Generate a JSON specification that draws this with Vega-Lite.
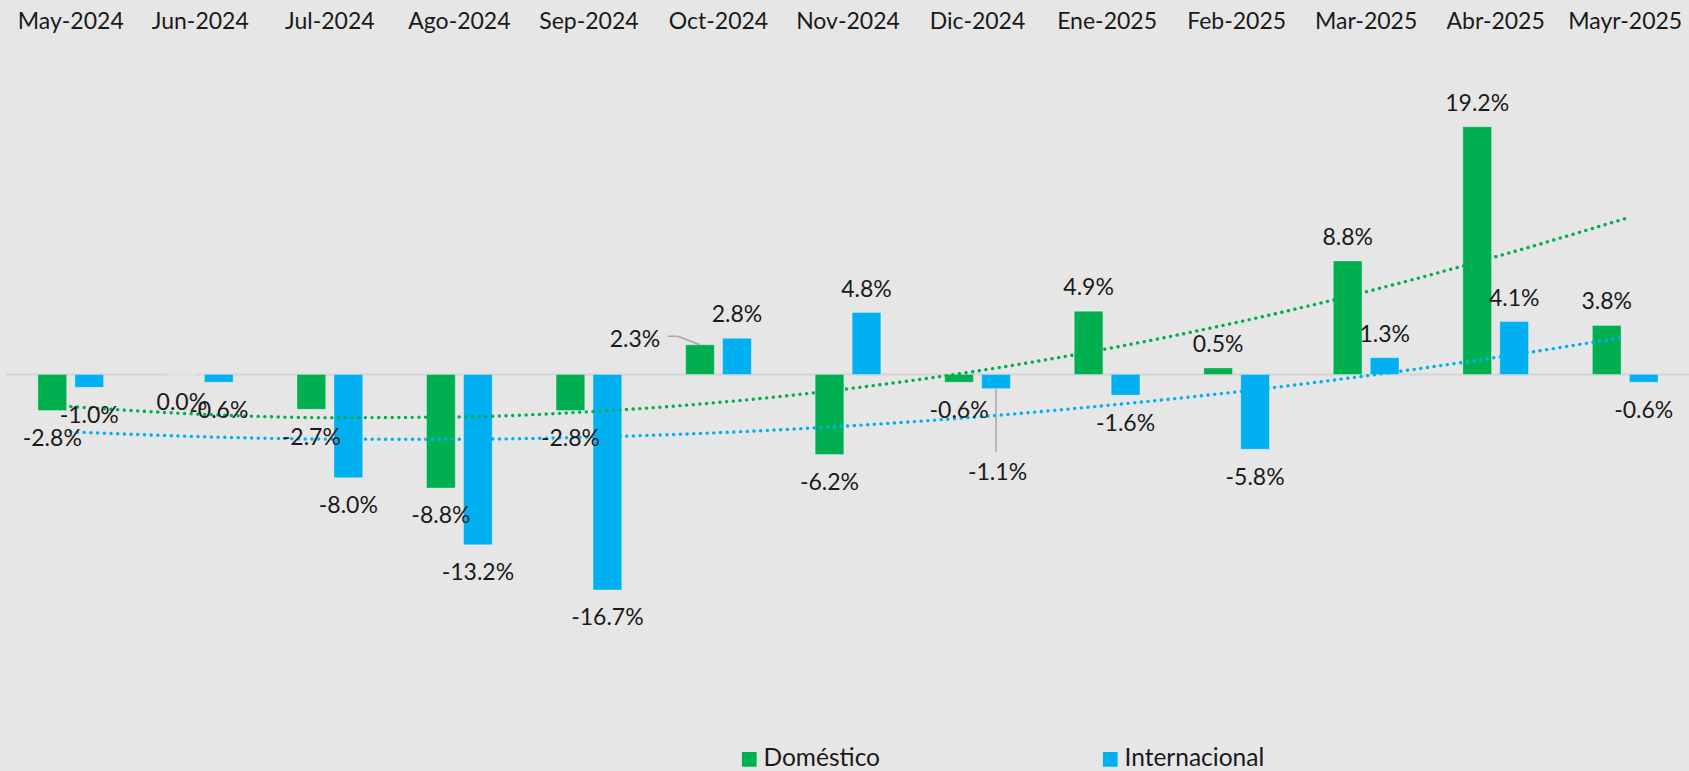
{
  "$schema": "https://vega.github.io/schema/vega-lite/v6.json",
  "width": 1684,
  "height": 658,
  "autosize": {"type": "none"},
  "padding": {"left": 6, "top": 39, "right": 0, "bottom": 74},
  "background": "#e7e6e6",
  "config": {
    "view": {"stroke": null},
    "font": "Lato",
    "locale": {
      "number": {"decimal": ".", "thousands": ",", "grouping": [3], "currency": ["$", ""], "minus": "-"}
    },
    "legend": {
      "orient": "none",
      "direction": "horizontal",
      "title": null,
      "symbolType": "square",
      "symbolSize": 216,
      "symbolStrokeWidth": 0,
      "symbolOpacity": 1,
      "labelFont": "Lato",
      "labelFontSize": 24.5,
      "labelColor": "#1a1a1a",
      "labelOffset": 2,
      "labelLimit": 400,
      "columnPadding": 217,
      "padding": 0
    }
  },
  "datasets": {
    "bars": [
      {"month": "May-2024", "series": "Doméstico", "value": -0.028},
      {"month": "May-2024", "series": "Internacional", "value": -0.010},
      {"month": "Jun-2024", "series": "Doméstico", "value": 0.000},
      {"month": "Jun-2024", "series": "Internacional", "value": -0.006},
      {"month": "Jul-2024", "series": "Doméstico", "value": -0.027},
      {"month": "Jul-2024", "series": "Internacional", "value": -0.080},
      {"month": "Ago-2024", "series": "Doméstico", "value": -0.088},
      {"month": "Ago-2024", "series": "Internacional", "value": -0.132},
      {"month": "Sep-2024", "series": "Doméstico", "value": -0.028},
      {"month": "Sep-2024", "series": "Internacional", "value": -0.167},
      {"month": "Oct-2024", "series": "Doméstico", "value": 0.023},
      {"month": "Oct-2024", "series": "Internacional", "value": 0.028},
      {"month": "Nov-2024", "series": "Doméstico", "value": -0.062},
      {"month": "Nov-2024", "series": "Internacional", "value": 0.048},
      {"month": "Dic-2024", "series": "Doméstico", "value": -0.006},
      {"month": "Dic-2024", "series": "Internacional", "value": -0.011},
      {"month": "Ene-2025", "series": "Doméstico", "value": 0.049},
      {"month": "Ene-2025", "series": "Internacional", "value": -0.016},
      {"month": "Feb-2025", "series": "Doméstico", "value": 0.005},
      {"month": "Feb-2025", "series": "Internacional", "value": -0.058},
      {"month": "Mar-2025", "series": "Doméstico", "value": 0.088},
      {"month": "Mar-2025", "series": "Internacional", "value": 0.013},
      {"month": "Abr-2025", "series": "Doméstico", "value": 0.192},
      {"month": "Abr-2025", "series": "Internacional", "value": 0.041},
      {"month": "Mayr-2025", "series": "Doméstico", "value": 0.038},
      {"month": "Mayr-2025", "series": "Internacional", "value": -0.006}
    ],
    "trend": [
      {"month": "May-2024", "series": "Doméstico", "value": -0.0249},
      {"month": "Jun-2024", "series": "Doméstico", "value": -0.0308},
      {"month": "Jul-2024", "series": "Doméstico", "value": -0.0335},
      {"month": "Ago-2024", "series": "Doméstico", "value": -0.0329},
      {"month": "Sep-2024", "series": "Doméstico", "value": -0.0289},
      {"month": "Oct-2024", "series": "Doméstico", "value": -0.0217},
      {"month": "Nov-2024", "series": "Doméstico", "value": -0.0111},
      {"month": "Dic-2024", "series": "Doméstico", "value": 0.0027},
      {"month": "Ene-2025", "series": "Doméstico", "value": 0.0199},
      {"month": "Feb-2025", "series": "Doméstico", "value": 0.0403},
      {"month": "Mar-2025", "series": "Doméstico", "value": 0.0641},
      {"month": "Abr-2025", "series": "Doméstico", "value": 0.0912},
      {"month": "Mayr-2025", "series": "Doméstico", "value": 0.1208},
      {"month": "May-2024", "series": "Internacional", "value": -0.0445},
      {"month": "Jun-2024", "series": "Internacional", "value": -0.0482},
      {"month": "Jul-2024", "series": "Internacional", "value": -0.0501},
      {"month": "Ago-2024", "series": "Internacional", "value": -0.0502},
      {"month": "Sep-2024", "series": "Internacional", "value": -0.0486},
      {"month": "Oct-2024", "series": "Internacional", "value": -0.0451},
      {"month": "Nov-2024", "series": "Internacional", "value": -0.0399},
      {"month": "Dic-2024", "series": "Internacional", "value": -0.0329},
      {"month": "Ene-2025", "series": "Internacional", "value": -0.0240},
      {"month": "Feb-2025", "series": "Internacional", "value": -0.0135},
      {"month": "Mar-2025", "series": "Internacional", "value": -0.0011},
      {"month": "Abr-2025", "series": "Internacional", "value": 0.0131},
      {"month": "Mayr-2025", "series": "Internacional", "value": 0.0290}
    ]
  },
  "encoding": {
    "x": {
      "field": "month",
      "type": "nominal",
      "sort": null,
      "scale": {"paddingInner": 0.493, "paddingOuter": 0.2465},
      "axis": {
        "orient": "top",
        "title": null,
        "domain": false,
        "ticks": false,
        "tickSize": 0,
        "grid": false,
        "labelAngle": 0,
        "labelFont": "Lato",
        "labelFontSize": 23,
        "labelColor": "#1a1a1a",
        "labelBaseline": "middle",
        "labelPadding": 18,
        "labelOverlap": false,
        "labelBound": false,
        "labelFlush": false
      }
    },
    "y": {
      "field": "value",
      "type": "quantitative",
      "scale": {"domain": [-0.25, 0.26], "nice": false, "zero": false},
      "axis": null
    }
  },
  "layer": [
    {
      "data": {"values": [{"z": 0}]},
      "mark": {"type": "rule", "color": "#d4d4d4", "strokeWidth": 2},
      "encoding": {"x": null, "y": {"field": "z", "type": "quantitative"}}
    },
    {
      "data": {"name": "bars"},
      "mark": {"type": "bar", "stroke": "#ffffff", "strokeOpacity": 0.3, "strokeWidth": 1},
      "encoding": {
        "xOffset": {"field": "series", "type": "nominal", "scale": {"paddingInner": 0.224, "paddingOuter": 0}},
        "color": {
          "field": "series",
          "type": "nominal",
          "scale": {"domain": ["Doméstico", "Internacional"], "range": ["#00b050", "#00b0f0"]},
          "legend": {"symbolType": "square", "direction": "horizontal", "orient": "none", "legendX": 731, "legendY": 708}
        }
      }
    },
    {
      "data": {"name": "trend"},
      "mark": {"type": "line", "strokeWidth": 3.4, "strokeCap": "round", "strokeDash": [0.1, 6.6], "interpolate": "monotone"},
      "encoding": {
        "stroke": {
          "field": "series",
          "type": "nominal",
          "scale": {"domain": ["Doméstico", "Internacional"], "range": ["#00b050", "#00b0f0"]},
          "legend": null
        },
        "detail": {"field": "series"}
      }
    },
    {
      "data": {"name": "bars"},
      "transform": [
        {"filter": "datum.value > 0 && !(datum.month == 'Oct-2024' && datum.series == 'Doméstico')"}
      ],
      "mark": {"type": "text", "font": "Lato", "fontSize": 23, "color": "#1a1a1a", "baseline": "middle", "dy": -23},
      "encoding": {
        "xOffset": {"field": "series", "type": "nominal", "scale": {"paddingInner": 0.224, "paddingOuter": 0}},
        "text": {"field": "value", "type": "quantitative", "format": ".1%"}
      }
    },
    {
      "data": {"name": "bars"},
      "transform": [
        {"filter": "datum.value <= 0 && !(datum.month == 'Dic-2024' && datum.series == 'Internacional')"}
      ],
      "mark": {"type": "text", "font": "Lato", "fontSize": 23, "color": "#1a1a1a", "baseline": "middle", "dy": 28.5},
      "encoding": {
        "xOffset": {"field": "series", "type": "nominal", "scale": {"paddingInner": 0.224, "paddingOuter": 0}},
        "text": {"field": "value", "type": "quantitative", "format": ".1%"}
      }
    },
    {
      "data": {"name": "bars"},
      "transform": [{"filter": "datum.month == 'Oct-2024' && datum.series == 'Doméstico'"}],
      "mark": {"type": "text", "font": "Lato", "fontSize": 23, "color": "#1a1a1a", "baseline": "middle", "dx": -65, "dy": -5},
      "encoding": {
        "xOffset": {"field": "series", "type": "nominal", "scale": {"paddingInner": 0.224, "paddingOuter": 0}},
        "text": {"field": "value", "type": "quantitative", "format": ".1%"}
      }
    },
    {
      "data": {"name": "bars"},
      "transform": [{"filter": "datum.month == 'Dic-2024' && datum.series == 'Internacional'"}],
      "mark": {"type": "text", "font": "Lato", "fontSize": 23, "color": "#1a1a1a", "baseline": "middle", "dx": 1.5, "dy": 84.5},
      "encoding": {
        "xOffset": {"field": "series", "type": "nominal", "scale": {"paddingInner": 0.224, "paddingOuter": 0}},
        "text": {"field": "value", "type": "quantitative", "format": ".1%"}
      }
    },
    {
      "data": {"name": "bars"},
      "transform": [{"filter": "datum.month == 'Dic-2024' && datum.series == 'Internacional'"}],
      "mark": {"type": "rule", "color": "#a6a6a6", "strokeWidth": 1.5, "y2Offset": 63},
      "encoding": {
        "xOffset": {"field": "series", "type": "nominal", "scale": {"paddingInner": 0.224, "paddingOuter": 0}},
        "y2": {"field": "value"}
      }
    },
    {
      "data": {"name": "bars"},
      "transform": [{"filter": "datum.month == 'Oct-2024' && datum.series == 'Doméstico'"}],
      "mark": {"type": "rule", "color": "#a6a6a6", "strokeWidth": 1.5, "xOffset": -40.7, "x2Offset": -18.5, "yOffset": -8.5, "y2Offset": 0},
      "encoding": {
        "x2": {"field": "month"},
        "y2": {"field": "value"}
      }
    },
    {
      "data": {"name": "bars"},
      "transform": [{"filter": "datum.month == 'Oct-2024' && datum.series == 'Doméstico'"}],
      "mark": {"type": "rule", "color": "#a6a6a6", "strokeWidth": 1.5, "xOffset": -50.7, "x2Offset": -40.7, "yOffset": -8.5, "y2Offset": -8.5},
      "encoding": {
        "x2": {"field": "month"},
        "y2": {"field": "value"}
      }
    }
  ]
}
